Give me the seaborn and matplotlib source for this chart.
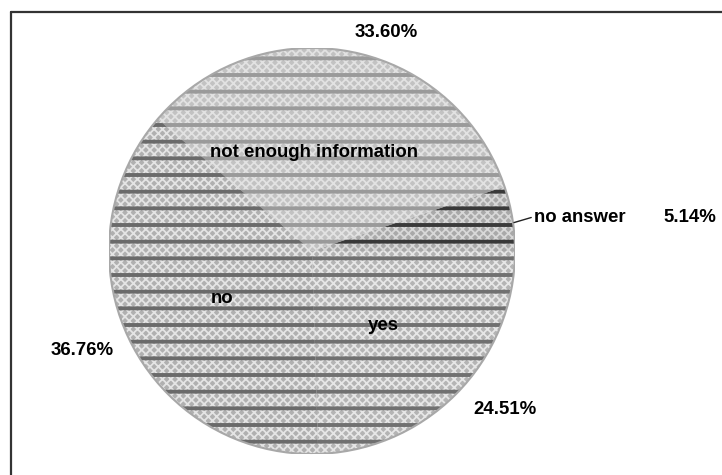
import matplotlib
matplotlib.use("Agg")
import matplotlib.pyplot as plt
from matplotlib.lines import Line2D
from matplotlib.patches import Circle
import seaborn as sns

# Survey answers, shares in percent (counter-clockwise from 3 o'clock)
categories = ["no answer", "not enough information", "no", "yes"]
shares = [5.14, 33.60, 36.76, 24.51]

sns.set_theme(style="white")
plt.rcParams["font.family"] = ["Liberation Sans", "DejaVu Sans"]

W, H, DPI = 722, 475, 100
fig = plt.figure(figsize=(W / DPI, H / DPI), dpi=DPI)

# pie centre and radius in pixels
cx, cy, R = 312, 251, 203
ax = fig.add_axes([(cx - R) / W, (H - cy - R) / H, 2 * R / W, 2 * R / H])

greys = sns.color_palette("Greys", 10)
base_colors = ["#a9a9a9", "#c2c2c2", "#b0b0b0", "#b4b4b4"]
cross_colors = ["#d8d8d8", "#e2e2e2", "#e4e4e4", "#e6e6e6"]
dash_colors = [greys[8], "#9a9a9a", "#6a6a6a", "#707070"]

# base fill
wedges, _ = ax.pie(shares, startangle=0, counterclock=True, radius=1,
                   colors=base_colors,
                   wedgeprops=dict(linewidth=0, edgecolor="none"))

# light cross texture
with plt.rc_context({"hatch.linewidth": 1.3}):
    w2, _ = ax.pie(shares, startangle=0, counterclock=True, radius=1,
                   wedgeprops=dict(fill=False, linewidth=0))
    for w, c in zip(w2, cross_colors):
        w.set_hatch("xxxx")
        w.set_edgecolor(c)
        w.set_linewidth(0)

# dark horizontal dashes
with plt.rc_context({"hatch.linewidth": 2.8}):
    w3, _ = ax.pie(shares, startangle=0, counterclock=True, radius=1,
                   wedgeprops=dict(fill=False, linewidth=0))
    for w, c in zip(w3, dash_colors):
        w.set_hatch("-")
        w.set_edgecolor(c)
        w.set_linewidth(0)

# outline of the pie
ax.add_patch(Circle((0, 0), 1, fill=False, edgecolor="#a8a8a8", linewidth=1.5))

ax.set_xlim(-1, 1)
ax.set_ylim(-1, 1)
ax.set_aspect("equal")
ax.axis("off")

# label layout (in pie-radius units)
name_pos = {
    "no answer": (1.094, 0.163, "left"),
    "not enough information": (0.010, 0.483, "center"),
    "no": (-0.443, -0.236, "center"),
    "yes": (0.350, -0.365, "center"),
}
pct_pos = {
    "no answer": (1.862, 0.163),
    "not enough information": (0.365, 1.075),
    "no": (-1.133, -0.488),
    "yes": (0.951, -0.783),
}

fs = 13.4
for cat, val in zip(categories, shares):
    x, y, ha = name_pos[cat]
    ax.text(x, y, cat, ha=ha, va="center", fontsize=fs, fontweight="bold",
            color="black", clip_on=False)
    px, py = pct_pos[cat]
    ax.text(px, py, f"{val:.2f}%", ha="center", va="center", fontsize=fs,
            fontweight="bold", color="black", clip_on=False)

# leader line for the small slice
ax.plot([0.995, 1.08], [0.14, 0.165], color="#222222", linewidth=1.0,
        clip_on=False)

# chart frame (left and top edges visible)
fig.add_artist(Line2D([11 / W, 11 / W], [0, 1 - 12 / H], transform=fig.transFigure,
                      color="#333333", linewidth=1.6))
fig.add_artist(Line2D([11 / W, 1], [1 - 12 / H, 1 - 12 / H], transform=fig.transFigure,
                      color="#333333", linewidth=1.6))

fig.savefig("out.png", dpi=DPI, facecolor="white")
